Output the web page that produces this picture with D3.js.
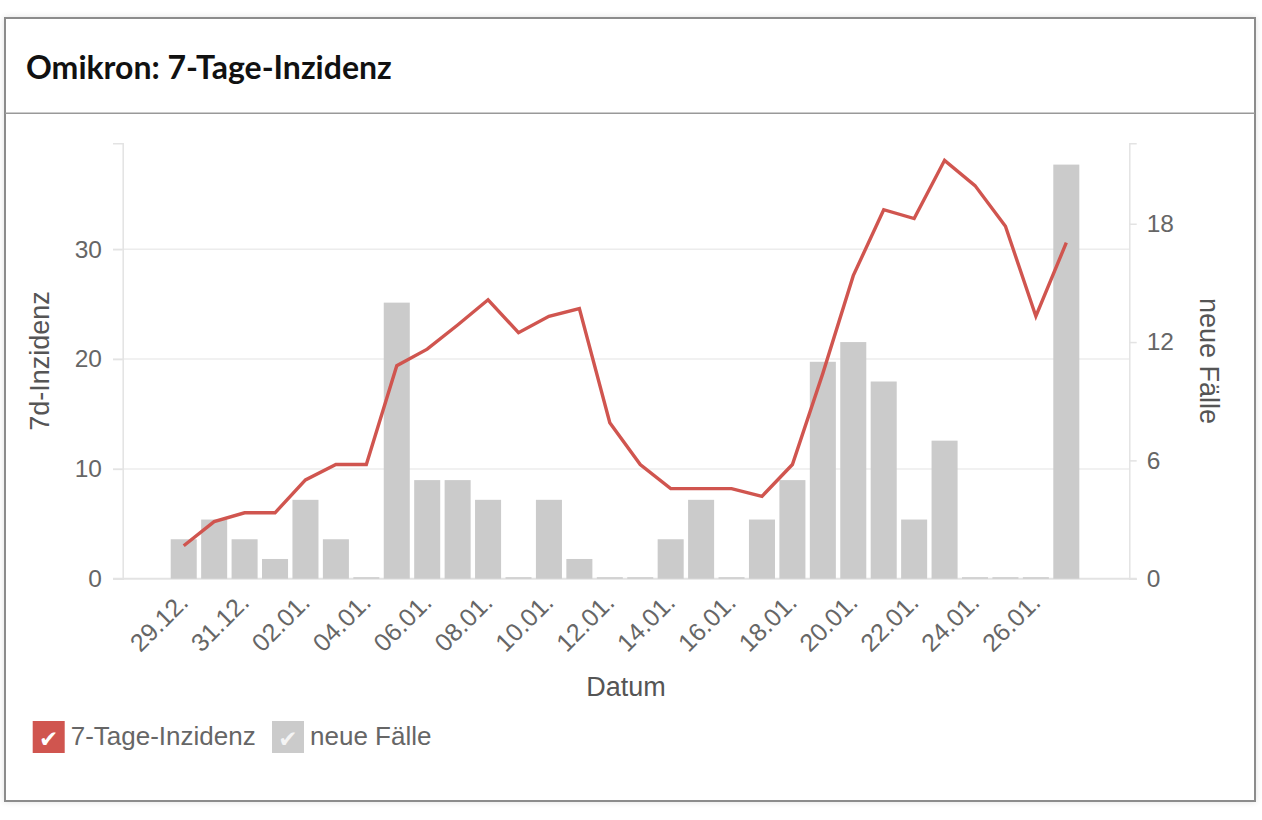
<!DOCTYPE html>
<html>
<head>
<meta charset="utf-8">
<script src="https://cdn.jsdelivr.net/npm/d3@7"></script>
<style>
  html, body { margin: 0; padding: 0; background: #fff; }
  #card {
    position: absolute; left: 4px; top: 17px; width: 1252px; height: 785px;
    box-sizing: border-box; border: 2px solid #8c8c8c;
    box-shadow: 0 0 6px rgba(0,0,0,0.12);
  }
  svg { position: absolute; left: 0; top: 0; }
  .tick text { font-family: "Liberation Sans", Arial, Helvetica, sans-serif; }
</style>
</head>
<body>
<div id="card"></div>
<div id="chart"></div>
<script>
// Dates on the x axis
var dates = ["29.12.", "30.12.", "31.12.", "01.01.", "02.01.", "03.01.", "04.01.", "05.01.",
  "06.01.", "07.01.", "08.01.", "09.01.", "10.01.", "11.01.", "12.01.", "13.01.", "14.01.",
  "15.01.", "16.01.", "17.01.", "18.01.", "19.01.", "20.01.", "21.01.", "22.01.", "23.01.",
  "24.01.", "25.01.", "26.01.", "27.01."];

// neue Fälle (bars, right axis)
var newCases = [2, 3, 2, 1, 4, 2, 0, 14, 5, 5, 4, 0, 4, 1, 0, 0, 2, 4, 0, 3, 5, 11, 12, 10, 3, 7, 0, 0, 0, 21];

// 7-Tage-Inzidenz (line, left axis)
var incidence = [3.0, 5.2, 6.0, 6.0, 9.0, 10.4, 10.4, 19.4, 20.9, 23.1, 25.4, 22.4, 23.9, 24.6,
  14.2, 10.4, 8.2, 8.2, 8.2, 7.5, 10.4, 18.7, 27.6, 33.6, 32.8, 38.1, 35.8, 32.1, 23.9, 30.6];

// tick labels
var xTickLabels = ["29.12.", "31.12.", "02.01.", "04.01.", "06.01.", "08.01.", "10.01.", "12.01.",
  "14.01.", "16.01.", "18.01.", "20.01.", "22.01.", "24.01.", "26.01."];
var leftTicks = [0, 10, 20, 30];
var rightTicks = [0, 6, 12, 18];

var width = 1262, height = 820;
var plot = { left: 122.7, right: 1129.3, top: 143.3, bottom: 578.7 };
var fontSans = "'Liberation Sans', Arial, Helvetica, sans-serif";
var red = "#d0554f", gray = "#cbcbcb";

var svg = d3.select("#chart").append("svg")
    .attr("width", width)
    .attr("height", height);

// header
svg.append("text")
    .attr("x", 26).attr("y", 79)
    .attr("font-family", "Lato, sans-serif")
    .attr("font-weight", 700)
    .attr("font-size", 32)
    .attr("fill", "#111")
    .text("Omikron: 7-Tage-Inzidenz");

svg.append("line")
    .attr("x1", 5).attr("x2", 1255)
    .attr("y1", 113.3).attr("y2", 113.3)
    .attr("stroke", "#999").attr("stroke-width", 1.5);

// scales
var x = d3.scaleBand()
    .domain(dates)
    .range([plot.left, plot.right])
    .paddingInner(0.145)
    .paddingOuter(1.61)
    .align(0.49);

var yLeft = d3.scaleLinear().domain([0, 39.65]).range([plot.bottom, plot.top]);
var yRight = d3.scaleLinear().domain([0, 22.08]).range([plot.bottom, plot.top]);

// gridlines (left ticks)
svg.append("g").selectAll("line")
    .data(leftTicks.filter(d => d > 0))
    .join("line")
    .attr("x1", plot.left - 9.7).attr("x2", plot.right)
    .attr("y1", d => yLeft(d)).attr("y2", d => yLeft(d))
    .attr("stroke", "#ececec").attr("stroke-width", 1.5);

// axes
var leftAxis = svg.append("g")
    .attr("transform", `translate(${plot.left},0)`)
    .call(d3.axisLeft(yLeft).tickValues(leftTicks).tickSize(9.7).tickPadding(11));

var rightAxis = svg.append("g")
    .attr("transform", `translate(${plot.right},0)`)
    .call(d3.axisRight(yRight).tickValues(rightTicks).tickSize(7.4).tickPadding(10));

[leftAxis, rightAxis].forEach(function(ax) {
    ax.select(".domain").attr("stroke", "#e3e3e3").attr("stroke-width", 1.5);
    ax.selectAll(".tick line").attr("stroke", "#e3e3e3").attr("stroke-width", 1.5);
    ax.selectAll(".tick text")
        .attr("font-size", 24.5)
        .attr("fill", "#666");
});

// baseline
svg.append("line")
    .attr("x1", plot.left - 9.7).attr("x2", plot.right + 7.4)
    .attr("y1", plot.bottom).attr("y2", plot.bottom)
    .attr("stroke", "#e3e3e3").attr("stroke-width", 2);

// bars
svg.append("g").selectAll("rect")
    .data(newCases)
    .join("rect")
    .attr("x", (d, i) => x(dates[i]))
    .attr("width", x.bandwidth())
    .attr("y", d => Math.min(yRight(d), plot.bottom - 1.5))
    .attr("height", d => Math.max(plot.bottom - yRight(d), 1.5))
    .attr("fill", gray);

// line
var line = d3.line()
    .x((d, i) => x(dates[i]) + x.bandwidth() / 2)
    .y(d => yLeft(d));

svg.append("path")
    .datum(incidence)
    .attr("d", line)
    .attr("fill", "none")
    .attr("stroke", red)
    .attr("stroke-width", 3.4)
    .attr("stroke-linejoin", "miter");

// x tick labels
svg.append("g").selectAll("text")
    .data(xTickLabels)
    .join("text")
    .attr("transform", d => `translate(${x(d) + x.bandwidth() / 2 + 6},604) rotate(-45)`)
    .attr("text-anchor", "end")
    .attr("font-family", fontSans)
    .attr("font-size", 25)
    .attr("fill", "#666")
    .text(d => d);

// axis titles
svg.append("text")
    .attr("x", (plot.left + plot.right) / 2).attr("y", 696)
    .attr("text-anchor", "middle")
    .attr("font-family", fontSans).attr("font-size", 27)
    .attr("fill", "#555")
    .text("Datum");

svg.append("text")
    .attr("transform", `translate(49,${(plot.top + plot.bottom) / 2}) rotate(-90)`)
    .attr("text-anchor", "middle")
    .attr("font-family", fontSans).attr("font-size", 27)
    .attr("fill", "#555")
    .text("7d-Inzidenz");

svg.append("text")
    .attr("transform", `translate(1200,${(plot.top + plot.bottom) / 2}) rotate(90)`)
    .attr("text-anchor", "middle")
    .attr("font-family", fontSans).attr("font-size", 27)
    .attr("fill", "#555")
    .text("neue Fälle");

// legend
var legendItems = [
    { label: "7-Tage-Inzidenz", color: red, check: "#fff", x: 32.7 },
    { label: "neue Fälle", color: gray, check: "#f4f4f4", x: 272 }
];

var legend = svg.append("g").selectAll("g")
    .data(legendItems)
    .join("g")
    .attr("transform", d => `translate(${d.x},721)`);

legend.append("rect")
    .attr("width", 32).attr("height", 32)
    .attr("fill", d => d.color);

legend.append("text")
    .attr("x", 16).attr("y", 26)
    .attr("text-anchor", "middle")
    .attr("font-family", "'DejaVu Sans', sans-serif")
    .attr("font-size", 23)
    .attr("fill", d => d.check)
    .text("\u2714");

legend.append("text")
    .attr("x", 38).attr("y", 24)
    .attr("font-family", fontSans).attr("font-size", 26)
    .attr("fill", "#666")
    .text(d => d.label);
</script>
</body>
</html>
